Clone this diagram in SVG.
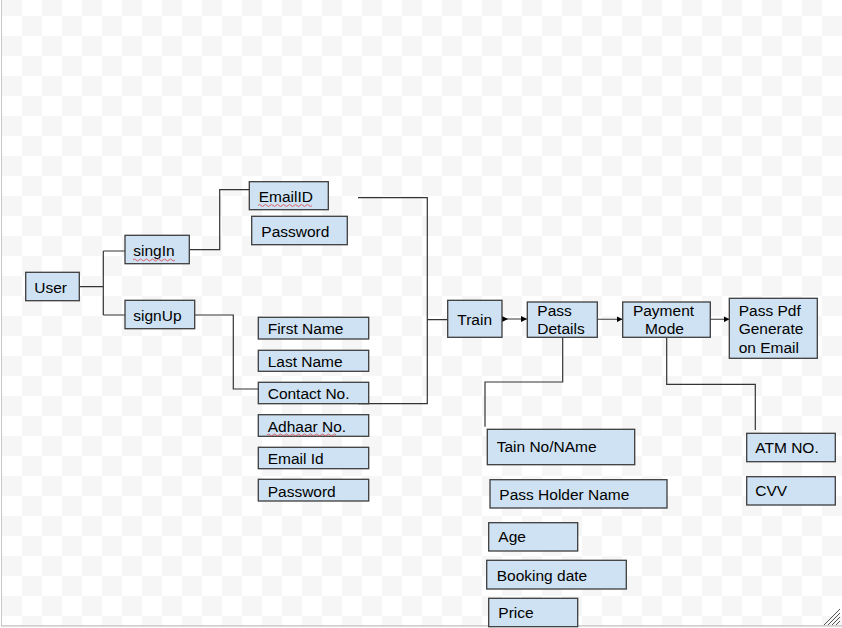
<svg xmlns="http://www.w3.org/2000/svg" width="842" height="628" viewBox="0 0 842 628">
<defs>
<pattern id="chk" x="2" y="-4" width="40" height="40" patternUnits="userSpaceOnUse">
<rect width="40" height="40" fill="#ffffff"/>
<rect width="20" height="20" fill="#f6f6f6"/>
<rect x="20" y="20" width="20" height="20" fill="#f6f6f6"/>
</pattern>
<marker id="arr" viewBox="0 0 10 10" refX="10" refY="5" markerWidth="6" markerHeight="6" orient="auto" markerUnits="userSpaceOnUse">
<path d="M0,0 L10,5 L0,10 z" fill="#000"/>
</marker>
<marker id="arrs" viewBox="0 0 10 10" refX="0" refY="5" markerWidth="6" markerHeight="6" orient="auto" markerUnits="userSpaceOnUse">
<path d="M0,0 L10,5 L0,10 z" fill="#000"/>
</marker>
</defs>
<style>
.box{fill:#cfe2f3;stroke:#3d3d3d;stroke-width:1.3}
.t{font-family:"Liberation Sans",Arial,sans-serif;font-size:15.5px;fill:#000}
.ln{fill:none;stroke:#333;stroke-width:1.2}
.ar{fill:none;stroke:#595959;stroke-width:1.2}
.sq{fill:none;stroke:#e04040;stroke-width:0.8}
</style>
<rect x="0" y="0" width="842" height="628" fill="#ffffff"/>
<rect x="2" y="0" width="840" height="625" fill="url(#chk)"/>
<line x1="1.5" y1="0" x2="1.5" y2="626" stroke="#c8c8c8" stroke-width="1"/>
<line x1="1" y1="625.8" x2="842" y2="625.8" stroke="#c0c0c0" stroke-width="1.2"/>
<g id="resize-handle" stroke="#555" stroke-width="1">
<line x1="824" y1="625" x2="840" y2="609"/>
<line x1="828" y1="625" x2="840" y2="613"/>
<line x1="832" y1="625" x2="840" y2="617"/>
<line x1="836" y1="625" x2="840" y2="621"/>
</g>

<g id="connectors">
<path class="ln" d="M79,286.7 H103.3 M103.3,251 V315 M103.3,251 H125 M103.3,315 H125"/>
<path class="ln" d="M189,249.7 H219.7 V189.7 H249"/>
<path class="ln" d="M195,315 H233.3 V389 H258"/>
<path class="ln" d="M358,197.7 H427.3 V403.7 H358 M427.3,319.7 H447.5"/>
<line class="ar" x1="502" y1="319" x2="527" y2="319" marker-start="url(#arrs)" marker-end="url(#arr)"/>
<line class="ar" x1="597.5" y1="319.3" x2="622.5" y2="319.3" marker-end="url(#arr)"/>
<line class="ar" x1="710.5" y1="319.3" x2="729.5" y2="319.3" marker-end="url(#arr)"/>
<path class="ln" d="M562.7,337.3 V382 H485 V426.7"/>
<path class="ln" d="M666.7,337.3 V384.3 H755.3 V430"/>
</g>

<g id="user"><rect class="box" x="25.7" y="272.3" width="53.6" height="28.4"/><text class="t" x="34.3" y="292.7">User</text></g>
<g id="signin"><rect class="box" x="125" y="235.3" width="64.3" height="28.4"/><text class="t" x="133.3" y="256">singIn</text><path class="sq" d="M133,260 q1.5,-2 3,0 t3,0 t3,0 t3,0 t3,0 t3,0 t3,0 t3,0 t3,0 t3,0 t3,0 t3,0 t3,0 t3,0"/></g>
<g id="signup"><rect class="box" x="125" y="300.3" width="69.7" height="28.4"/><text class="t" x="133.3" y="321">signUp</text></g>
<g id="emailid"><rect class="box" x="249.3" y="181.7" width="79" height="28"/><text class="t" x="258.7" y="201.7">EmailID</text><path class="sq" d="M258,205.5 q1.5,-2 3,0 t3,0 t3,0 t3,0 t3,0 t3,0 t3,0 t3,0 t3,0 t3,0 t3,0 t3,0 t3,0 t3,0 t3,0 t3,0 t3,0 t3,0"/></g>
<g id="password1"><rect class="box" x="251.7" y="216.3" width="95.6" height="28.4"/><text class="t" x="261.3" y="236.7">Password</text></g>

<g id="firstname"><rect class="box" x="258.3" y="317.3" width="110.4" height="21.7"/><text class="t" x="267.7" y="333.7">First Name</text></g>
<g id="lastname"><rect class="box" x="258.3" y="350.3" width="110.4" height="21"/><text class="t" x="267.7" y="366.7">Last Name</text></g>
<g id="contact"><rect class="box" x="258.3" y="382.3" width="110.4" height="21.4"/><text class="t" x="267.7" y="399">Contact No.</text></g>
<g id="adhaar"><rect class="box" x="258.3" y="414.7" width="110.4" height="21.6"/><text class="t" x="267.7" y="431.7">Adhaar No.</text><path class="sq" d="M267,435 q1.5,-2 3,0 t3,0 t3,0 t3,0 t3,0 t3,0 t3,0 t3,0 t3,0 t3,0 t3,0 t3,0 t3,0 t3,0 t3,0 t3,0 t3,0 t3,0 t3,0 t3,0 t3,0 t3,0 t3,0"/></g>
<g id="emailid2"><rect class="box" x="258.3" y="447.3" width="110.4" height="21.4"/><text class="t" x="267.7" y="464">Email Id</text></g>
<g id="password2"><rect class="box" x="258.3" y="479.3" width="110.4" height="21.7"/><text class="t" x="267.7" y="496.7">Password</text></g>

<g id="train"><rect class="box" x="447.7" y="300.3" width="54.3" height="37"/><text class="t" x="457.3" y="325">Train</text></g>
<g id="passdetails"><rect class="box" x="527.3" y="302" width="70" height="35.3"/><text class="t" x="537.3" y="316">Pass</text><text class="t" x="537.3" y="334.3">Details</text></g>
<g id="paymentmode"><rect class="box" x="622.7" y="302" width="87.6" height="35.3"/><text class="t" x="663.5" y="316" text-anchor="middle">Payment</text><text class="t" x="664.5" y="334.3" text-anchor="middle">Mode</text></g>
<g id="passpdf"><rect class="box" x="729.3" y="298.3" width="88" height="60"/><text class="t" x="738.7" y="316">Pass Pdf</text><text class="t" x="738.7" y="334.3">Generate</text><text class="t" x="738.7" y="353.3">on Email</text></g>

<g id="atm"><rect class="box" x="746.7" y="433.3" width="88.6" height="28.4"/><text class="t" x="755.3" y="452.7">ATM NO.</text></g>
<g id="cvv"><rect class="box" x="746.7" y="476.7" width="88.6" height="28.3"/><text class="t" x="755.3" y="495.7">CVV</text></g>

<g id="trainno"><rect class="box" x="487.3" y="429.3" width="147.4" height="35.4"/><text class="t" x="496.7" y="452.3">Tain No/NAme</text></g>
<g id="holder"><rect class="box" x="490" y="479.7" width="177" height="28.3"/><text class="t" x="499.3" y="500">Pass Holder Name</text></g>
<g id="age"><rect class="box" x="488.7" y="522.7" width="89" height="28.3"/><text class="t" x="498.3" y="542.3">Age</text></g>
<g id="booking"><rect class="box" x="486.7" y="560.3" width="139.6" height="28.7"/><text class="t" x="496.7" y="580.7">Booking date</text></g>
<g id="price"><rect class="box" x="488.7" y="598.3" width="89" height="28.4"/><text class="t" x="498.3" y="618.3">Price</text></g>
</svg>
